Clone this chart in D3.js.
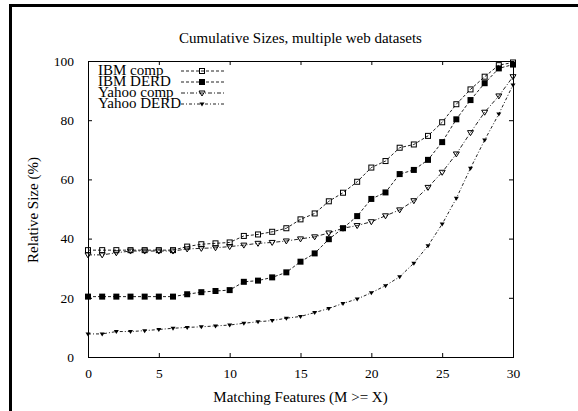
<!DOCTYPE html>
<html>
<head>
<meta charset="utf-8">
<script src="https://cdn.jsdelivr.net/npm/d3@7"></script>
<style>
  body { margin: 0; background: #fff; }
</style>
</head>
<body>
<svg id="chart" width="578" height="411"></svg>
<script>
// matching features threshold X
var xs = d3.range(0, 31);
var xTicks = [0, 5, 10, 15, 20, 25, 30];
var yTicks = [0, 20, 40, 60, 80, 100];

var seriesNames = ["IBM comp", "IBM DERD", "Yahoo comp", "Yahoo DERD"];

var ibmComp = [36.1, 36.1, 36.1, 36.1, 36.1, 36.1, 36.1, 37.3, 38.1, 38.4, 38.7,
  40.9, 41.4, 42.3, 43.5, 46.5, 48.5, 52.6, 55.5, 59.2, 64.0,
  66.2, 70.7, 71.8, 74.7, 79.3, 85.4, 90.4, 94.7, 98.6, 99.5];
var ibmDerd = [20.4, 20.4, 20.4, 20.4, 20.4, 20.4, 20.4, 21.2, 21.9, 22.3, 22.6,
  25.4, 25.8, 26.9, 28.6, 32.2, 35.0, 39.8, 43.5, 47.6, 53.4,
  55.6, 61.8, 63.2, 66.6, 72.6, 80.3, 86.8, 92.5, 97.5, 98.8];
var yahooComp = [34.5, 34.5, 35.2, 35.8, 35.8, 35.8, 35.8, 36.5, 36.7, 36.9, 37.3,
  37.8, 38.4, 38.7, 39.2, 39.9, 40.6, 41.9, 43.5, 44.4, 45.7,
  47.7, 49.7, 52.8, 57.3, 62.4, 68.6, 75.8, 82.7, 88.2, 94.7];
var yahooDerd = [7.8, 7.8, 8.6, 8.6, 8.9, 9.3, 9.7, 10.0, 10.2, 10.5, 10.8,
  11.4, 11.9, 12.3, 13.1, 13.7, 15.0, 16.4, 18.1, 19.6, 21.7,
  24.1, 27.1, 31.7, 37.6, 44.9, 53.6, 63.8, 73.3, 82.1, 91.9];

var seriesValues = [ibmComp, ibmDerd, yahooComp, yahooDerd];
var dashes = ["3,2", "3,2", "4,2,1,2", "3,2,1,2"];
var markers = ["openSquare", "filledSquare", "openTri", "smallTri"];
var serif = '"Liberation Serif", "Times New Roman", "DejaVu Serif", serif';

const svg = d3.select("#chart"),
      margin = {top: 61, right: 65, bottom: 54, left: 88},
      width  = 578 - margin.left - margin.right,
      height = 411 - margin.top - margin.bottom,
      x = d3.scaleLinear().domain([0, 30]).range([0, width]),
      y = d3.scaleLinear().domain([0, 100]).range([height, 0]),
      g = svg.append("g").attr("transform", `translate(${margin.left},${margin.top})`);

// outer page frame (cut off at right/bottom)
svg.append("rect")
  .attr("x", 10.5).attr("y", 5.5)
  .attr("width", 620).attr("height", 460)
  .attr("fill", "none").attr("stroke", "#000").attr("stroke-width", 3);

// axes, gnuplot style: inward ticks mirrored on both sides
g.append("g")
  .attr("transform", `translate(0,${height})`)
  .call(d3.axisBottom(x).tickValues(xTicks).tickSize(-4).tickPadding(11))
  .call(a => a.select(".domain").remove());
g.append("g")
  .call(d3.axisTop(x).tickValues(xTicks).tickSize(-4).tickFormat(""))
  .call(a => a.select(".domain").remove());
g.append("g")
  .call(d3.axisLeft(y).tickValues(yTicks).tickSize(-4).tickPadding(14))
  .call(a => a.select(".domain").remove());
g.append("g")
  .attr("transform", `translate(${width},0)`)
  .call(d3.axisRight(y).tickValues(yTicks).tickSize(-4).tickFormat(""))
  .call(a => a.select(".domain").remove());
g.selectAll(".tick text")
  .style("font-family", serif).style("font-size", "13.5px").attr("fill", "#000");

g.append("rect")
  .attr("x", 0.5).attr("y", 0.5)
  .attr("width", width).attr("height", height)
  .attr("fill", "none").attr("stroke", "#000").attr("stroke-width", 1);

// marker drawing
function drawMarker(sel, type) {
  if (type === "openSquare") {
    sel.append("rect").attr("x", -2.5).attr("y", -2.5).attr("width", 5).attr("height", 5)
      .attr("fill", "none").attr("stroke", "#000").attr("stroke-width", 1);
  } else if (type === "filledSquare") {
    sel.append("rect").attr("x", -3).attr("y", -3).attr("width", 6).attr("height", 6)
      .attr("fill", "#000");
  } else if (type === "openTri") {
    sel.append("path").attr("d", "M-3,-2L3,-2L0,3Z")
      .attr("fill", "none").attr("stroke", "#000").attr("stroke-width", 1);
  } else {
    sel.append("path").attr("d", "M-2.5,-1.5L2.5,-1.5L0,2.5Z").attr("fill", "#000");
  }
}

var line = d3.line().x((d, i) => x(xs[i])).y(d => y(d));

seriesValues.forEach((vals, k) => {
  g.append("path")
    .datum(vals)
    .attr("d", line)
    .attr("fill", "none")
    .attr("stroke", "#222")
    .attr("stroke-width", 1)
    .attr("stroke-dasharray", dashes[k]);

  g.selectAll(".pt" + k)
    .data(vals)
    .enter().append("g")
    .attr("class", "pt" + k)
    .attr("transform", (d, i) => `translate(${x(xs[i])},${y(d)})`)
    .each(function() { drawMarker(d3.select(this), markers[k]); });
});

// legend (entries packed tight, as in the original)
seriesNames.forEach((name, k) => {
  var ly = 71 + k * 11;
  svg.append("text").attr("x", 98).attr("y", ly + 4)
    .style("font-family", serif).style("font-size", "15px").text(name);
  svg.append("line")
    .attr("x1", 181).attr("x2", 224).attr("y1", ly).attr("y2", ly)
    .attr("stroke", "#222").attr("stroke-width", 1)
    .attr("stroke-dasharray", dashes[k]);
  drawMarker(svg.append("g").attr("transform", `translate(202,${ly})`), markers[k]);
});

// title and axis labels
svg.append("text")
  .attr("x", margin.left + width / 2).attr("y", 43)
  .attr("text-anchor", "middle")
  .style("font-family", serif).style("font-size", "15px")
  .text("Cumulative Sizes, multiple web datasets");

svg.append("text")
  .attr("x", margin.left + width / 2).attr("y", 402)
  .attr("text-anchor", "middle")
  .style("font-family", serif).style("font-size", "15px")
  .text("Matching Features (M >= X)");

svg.append("text")
  .attr("transform", "translate(38,210)rotate(-90)")
  .attr("text-anchor", "middle")
  .style("font-family", serif).style("font-size", "15px")
  .text("Relative Size (%)");
</script>
</body>
</html>
